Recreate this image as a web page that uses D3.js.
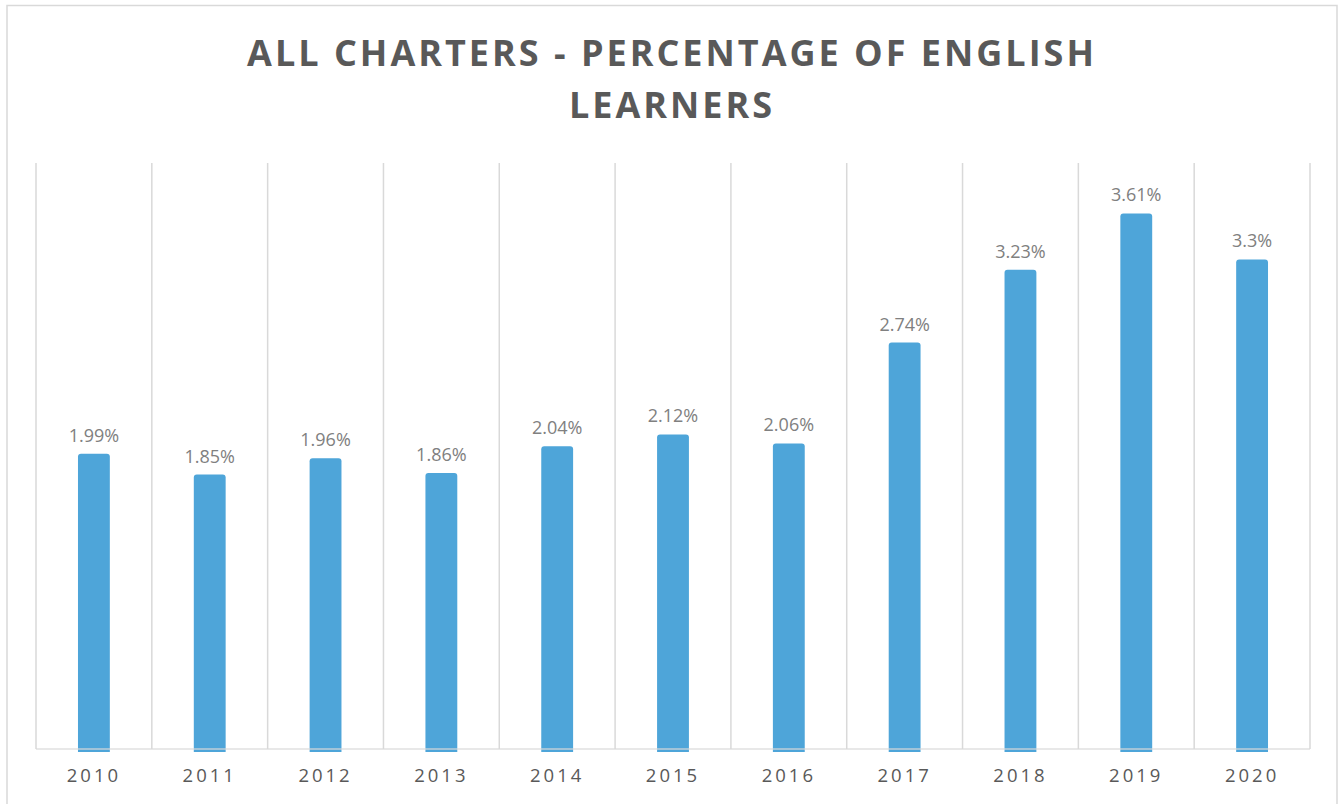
<!DOCTYPE html>
<html>
<head>
<meta charset="utf-8">
<script src="https://cdn.jsdelivr.net/npm/d3@7"></script>
<style>
  body { margin: 0; background: #fff; }
  .title { font-family: "Open Sans", sans-serif; font-weight: 700; font-size: 36px; fill: #595959; letter-spacing: 3px; }
  .value-label { font-family: "Open Sans", sans-serif; font-size: 18px; fill: #808080; }
  .x-axis text { font-family: "Open Sans", sans-serif; font-size: 18.5px; fill: #595959; letter-spacing: 3px; }
</style>
</head>
<body>
<div id="chart"></div>
<script>
var years = ["2010", "2011", "2012", "2013", "2014", "2015", "2016", "2017", "2018", "2019", "2020"];
var values = [1.99, 1.85, 1.96, 1.86, 2.04, 2.12, 2.06, 2.74, 3.23, 3.61, 3.3];
var valueLabels = ["1.99%", "1.85%", "1.96%", "1.86%", "2.04%", "2.12%", "2.06%", "2.74%", "3.23%", "3.61%", "3.3%"];
var titleLines = ["ALL CHARTERS - PERCENTAGE OF ENGLISH", "LEARNERS"];

var fullWidth = 1344, fullHeight = 804;
var margin = { top: 163, right: 34, bottom: 55, left: 36 };
var width = fullWidth - margin.left - margin.right,
    height = fullHeight - margin.top - margin.bottom;

var data = years.map(function(d, i) {
    return { year: d, value: values[i], label: valueLabels[i] };
});

var svgRoot = d3.select("#chart")
    .append("svg")
    .attr("width", fullWidth)
    .attr("height", fullHeight);

// outer chart border
svgRoot.append("rect")
    .attr("x", 7)
    .attr("y", 5.5)
    .attr("width", 1330)
    .attr("height", 820)
    .attr("fill", "none")
    .attr("stroke", "#d9d9d9")
    .attr("stroke-width", 1.5);

svgRoot.append("text")
    .attr("class", "title")
    .attr("text-anchor", "middle")
    .selectAll("tspan")
    .data(titleLines)
    .enter()
    .append("tspan")
    .attr("x", 672)
    .attr("y", function(d, i) { return 66 + i * 52; })
    .text(function(d) { return d; });

var svg = svgRoot.append("g")
    .attr("transform", "translate(" + margin.left + "," + margin.top + ")");

var xScale = d3.scaleBand()
    .domain(years)
    .range([0, width])
    .paddingInner(0.725)
    .paddingOuter(0.3625);

var yScale = d3.scaleLinear()
    .domain([0, 3.95])
    .range([height, 0]);

// vertical category gridlines
var step = xScale.step();
svg.selectAll(".grid-line")
    .data(d3.range(years.length + 1))
    .enter()
    .append("line")
    .attr("class", "grid-line")
    .attr("x1", function(d) { return d * step; })
    .attr("x2", function(d) { return d * step; })
    .attr("y1", 0)
    .attr("y2", height)
    .attr("stroke", "#d9d9d9")
    .attr("stroke-width", 1.5);

var r = 3;
svg.selectAll(".bar")
    .data(data)
    .enter()
    .append("path")
    .attr("class", "bar")
    .attr("fill", "#4ea5d9")
    .attr("d", function(d) {
        var x0 = xScale(d.year), w = xScale.bandwidth();
        var y0 = yScale(d.value), y1 = yScale(0) + 3;
        return "M" + x0 + "," + y1 +
            "V" + (y0 + r) +
            "Q" + x0 + "," + y0 + " " + (x0 + r) + "," + y0 +
            "H" + (x0 + w - r) +
            "Q" + (x0 + w) + "," + y0 + " " + (x0 + w) + "," + (y0 + r) +
            "V" + y1 + "Z";
    });

svg.selectAll(".value-label")
    .data(data)
    .enter()
    .append("text")
    .attr("class", "value-label")
    .attr("text-anchor", "middle")
    .attr("x", function(d) { return xScale(d.year) + xScale.bandwidth() / 2; })
    .attr("y", function(d) { return yScale(d.value) - 12; })
    .text(function(d) { return d.label; });

// baseline
svg.append("line")
    .attr("x1", 0)
    .attr("x2", width)
    .attr("y1", height)
    .attr("y2", height)
    .attr("stroke", "#d9d9d9")
    .attr("stroke-opacity", 0.8)
    .attr("stroke-width", 1.5);

var xAxis = d3.axisBottom(xScale).tickSize(0).tickPadding(20);
svg.append("g")
    .attr("class", "x-axis")
    .attr("transform", "translate(0," + height + ")")
    .call(xAxis)
    .call(function(g) { g.select(".domain").remove(); });
</script>
</body>
</html>
